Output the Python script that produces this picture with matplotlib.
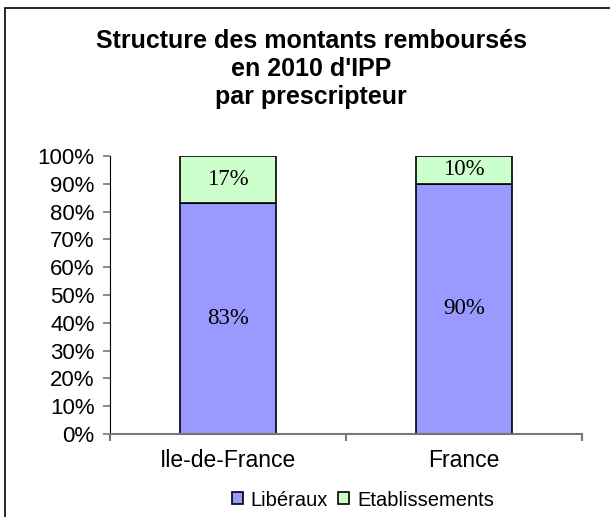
import numpy as np
import matplotlib.pyplot as plt
from matplotlib.patches import Rectangle

categories = ['Ile-de-France', 'France']
liberaux = [83, 90]
etablissements = [17, 10]
series_names = ['Libéraux', 'Etablissements']
colors = ['#9999FF', '#CCFFCC']

plt.rcParams['font.family'] = ['Liberation Sans', 'DejaVu Sans']

fig = plt.figure(figsize=(6.10, 5.17), dpi=100)
# figure border (only left/top visible in the original)
fig.patches.append(Rectangle((5 / 610, -0.1), 1.2, 1 - 8 / 517 + 0.1, transform=fig.transFigure,
                             fill=False, edgecolor='black', linewidth=1.2))

ax = fig.add_axes([110 / 610, 1 - 434 / 517, (582 - 110) / 610, (434 - 156) / 517])
x = np.arange(len(categories))
width = 0.41
b1 = ax.bar(x, liberaux, width, color=colors[0], edgecolor='black', linewidth=1.2, label=series_names[0])
b2 = ax.bar(x, etablissements, width, bottom=liberaux, color=colors[1], edgecolor='black',
            linewidth=1.2, label=series_names[1])

for i in range(len(categories)):
    ax.text(x[i], liberaux[i] / 2, f'{liberaux[i]}%', ha='center', va='center',
            family='Liberation Serif', fontsize=16.5)
    ax.text(x[i], liberaux[i] + etablissements[i] / 2, f'{etablissements[i]}%', ha='center',
            va='center', family='Liberation Serif', fontsize=16.5)

ax.set_xlim(-0.5, 1.5)
ax.set_ylim(0, 100)
ax.set_yticks(range(0, 101, 10))
ax.set_yticklabels([f'{v}%' for v in range(0, 101, 10)], fontsize=16)
ax.set_xticks(x)
ax.set_xticklabels(categories, fontsize=16.5)
ax.tick_params(axis='x', length=0, pad=11)
ax.set_xticks([-0.5, 0.5, 1.5], minor=True)
ax.tick_params(axis='x', which='minor', length=5, color='#777777', width=1.5)
ax.tick_params(axis='y', length=5, color='#777777', width=1.2, pad=6)

for s in ['top', 'right']:
    ax.spines[s].set_visible(False)
ax.spines['left'].set_color('black')
ax.spines['bottom'].set_color('#777777')
ax.spines['bottom'].set_linewidth(1.5)

fig.text(311 / 610, 1 - 69 / 517, "Structure des montants remboursés\nen 2010 d'IPP\npar prescripteur",
         ha='center', va='center', fontsize=18, fontweight='bold', linespacing=1.2)

fig.legend(handles=[b1, b2], labels=series_names, loc='center', bbox_to_anchor=(363 / 610, 1 - 500 / 517),
           ncol=2, frameon=False, fontsize=14.5, handlelength=0.55, handleheight=0.55,
           handletextpad=0.4, columnspacing=0.5)

fig.savefig('out.png', dpi=100)
